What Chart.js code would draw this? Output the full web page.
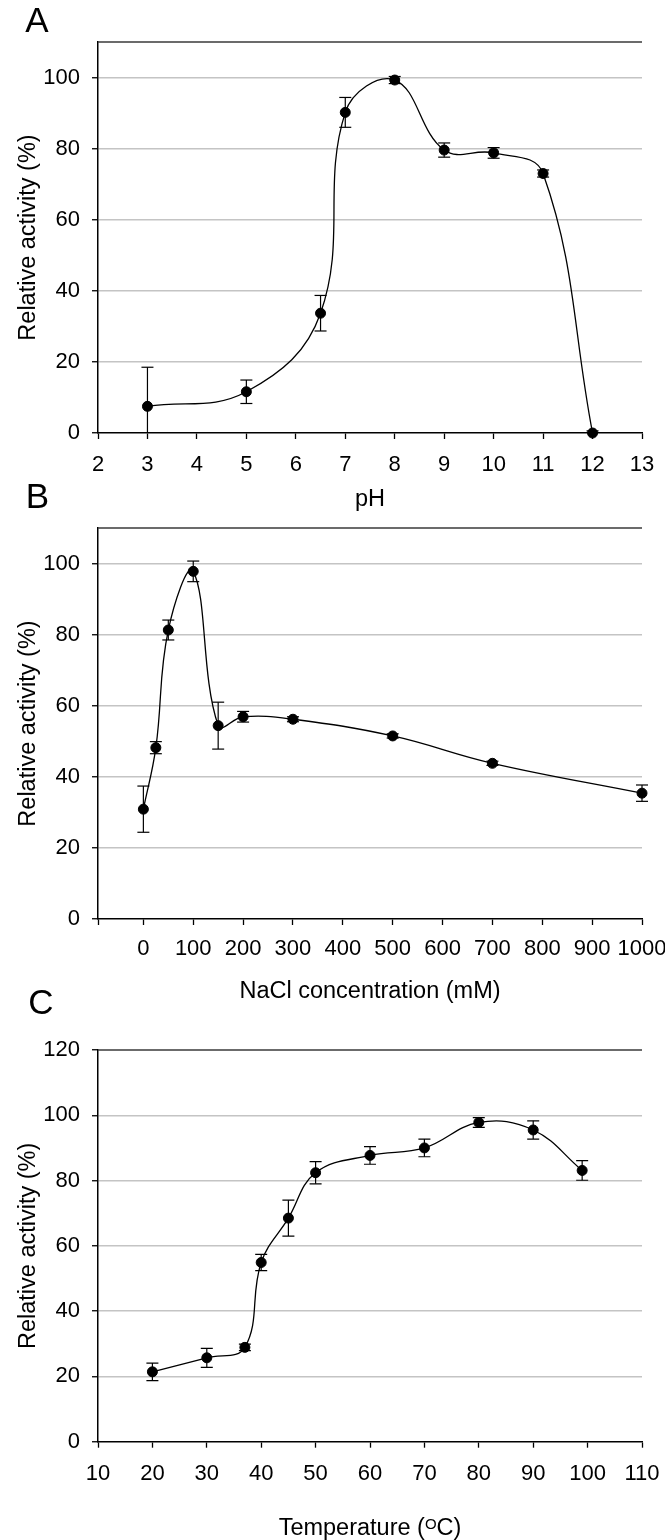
<!DOCTYPE html>
<html><head><meta charset="utf-8">
<script src="https://cdn.jsdelivr.net/npm/chart.js@4.4.1/dist/chart.umd.min.js"></script>
<style>
html,body{margin:0;padding:0;background:#fff;}
body{width:665px;height:1540px;position:relative;overflow:hidden;}
canvas{position:absolute;left:0;}
</style></head><body>
<canvas id="cA" width="665" height="515" style="top:0px;width:665px;height:515px"></canvas>
<canvas id="cB" width="665" height="540" style="top:480px;width:665px;height:540px"></canvas>
<canvas id="cC" width="665" height="555" style="top:985px;width:665px;height:555px"></canvas>
<script>
// ---- Panel A: pH ----
const phValues   = [3, 5, 6.5, 7, 8, 9, 10, 11, 12];
const phActivity = [7.5, 11.6, 33.7, 90.2, 99.3, 79.6, 78.8, 73.0, 0.0];
const phError    = [11.0, 3.3, 5.0, 4.2, 1.0, 2.0, 1.5, 1.0, 0.6];
const phTicks    = [2, 3, 4, 5, 6, 7, 8, 9, 10, 11, 12, 13];

// ---- Panel B: NaCl ----
const naclValues   = [0, 25, 50, 100, 150, 200, 300, 500, 700, 1000];
const naclActivity = [30.9, 48.2, 81.3, 97.8, 54.4, 56.9, 56.2, 51.5, 43.8, 35.4];
const naclError    = [6.5, 1.7, 2.8, 2.9, 6.6, 1.5, 0.7, 0.6, 0.6, 2.3];
const naclTicks    = [0, 100, 200, 300, 400, 500, 600, 700, 800, 900, 1000];

// ---- Panel C: Temperature ----
const tempValues   = [20, 30, 37, 40, 45, 50, 60, 70, 80, 90, 99];
const tempActivity = [21.4, 25.7, 28.9, 54.9, 68.5, 82.4, 87.7, 90.0, 97.8, 95.5, 83.1];
const tempError    = [2.7, 2.9, 1.0, 2.5, 5.5, 3.4, 2.7, 2.7, 1.5, 2.8, 3.0];
const tempTicks    = [10, 20, 30, 40, 50, 60, 70, 80, 90, 100, 110];

const activityTicksAB = [0, 20, 40, 60, 80, 100];
const activityTicksC  = [0, 20, 40, 60, 80, 100, 120];

const FONT = "'Liberation Sans', Arial, Helvetica, sans-serif";
const TITLE_SIZE = 23.5;

const extras = {
  id: 'panelExtras',
  beforeDatasetsDraw(chart) {
    const ctx = chart.ctx, a = chart.chartArea;
    const xs = chart.scales.x, ys = chart.scales.y;
    ctx.save();
    // top frame line
    ctx.strokeStyle = '#3a3a3a'; ctx.lineWidth = 1.5;
    ctx.beginPath(); ctx.moveTo(a.left, a.top); ctx.lineTo(a.right, a.top); ctx.stroke();
    // error bars
    const ds = chart.data.datasets[0];
    ctx.beginPath(); ctx.rect(a.left, a.top - 2, a.right - a.left + 10, a.bottom - a.top + 2); ctx.clip();
    ctx.strokeStyle = '#000'; ctx.lineWidth = 1.2;
    ds.data.forEach((p, i) => {
      const e = ds.errors[i];
      const px = xs.getPixelForValue(p.x);
      const hi = p.y + e, lo = p.y - e;
      const yT = ys.getPixelForValue(hi), yB = ys.getPixelForValue(lo);
      ctx.beginPath(); ctx.moveTo(px, yT); ctx.lineTo(px, yB); ctx.stroke();
      const cw = 6;
      if (hi <= ys.max) { ctx.beginPath(); ctx.moveTo(px - cw, yT); ctx.lineTo(px + cw, yT); ctx.stroke(); }
      if (lo >= ys.min) { ctx.beginPath(); ctx.moveTo(px - cw, yB); ctx.lineTo(px + cw, yB); ctx.stroke(); }
    });
    ctx.restore();
  },
  afterDraw(chart) {
    const o = chart.options.plugins.panelExtras;
    const ctx = chart.ctx, a = chart.chartArea;
    ctx.save();
    ctx.fillStyle = '#000';
    ctx.font = '35px ' + FONT;
    ctx.textAlign = 'center'; ctx.textBaseline = 'middle';
    ctx.fillText(o.letter, o.lx, o.ly);
    if (o.supTitle) {
      const t = o.supTitle; // [before, superscript, after]
      const big = TITLE_SIZE + 'px ' + FONT, small = '15px ' + FONT;
      ctx.font = big; const w1 = ctx.measureText(t[0]).width, w3 = ctx.measureText(t[2]).width;
      ctx.font = small; const w2 = ctx.measureText(t[1]).width;
      let x = (a.left + a.right) / 2 - (w1 + w2 + w3) / 2;
      ctx.textAlign = 'left'; ctx.textBaseline = 'alphabetic';
      ctx.font = big; ctx.fillText(t[0], x, o.titleBaseline); x += w1;
      ctx.font = small; ctx.fillText(t[1], x, o.titleBaseline - 6); x += w2;
      ctx.font = big; ctx.fillText(t[2], x, o.titleBaseline);
    }
    ctx.restore();
  }
};

function makePanel(id, c) {
  const yMax = c.yMax;
  return new Chart(document.getElementById(id), {
    type: 'scatter',
    data: { datasets: [{
      data: c.xs.map((x, i) => ({ x: x, y: c.ys[i] })),
      errors: c.errs,
      showLine: true, tension: c.tension,
      borderColor: '#000', borderWidth: 1.3,
      pointRadius: 5, pointHoverRadius: 5, pointBorderWidth: 1,
      pointBackgroundColor: '#000', pointBorderColor: '#000',
      clip: false
    }]},
    options: {
      responsive: false, animation: false, devicePixelRatio: 1, events: [],
      layout: { padding: { top: c.plotTop, right: 23, bottom: 0, left: 0 } },
      plugins: {
        legend: { display: false }, tooltip: { enabled: false },
        panelExtras: { letter: c.letter, lx: c.lx, ly: c.ly, supTitle: c.supTitle, titleBaseline: c.titleBaseline }
      },
      scales: {
        x: {
          type: 'linear', position: 'bottom', min: c.xMin, max: c.xMax,
          afterBuildTicks: s => { s.ticks = c.xTickVals.map(v => ({ value: v })); },
          afterFit: s => { s.height = c.xAxisH; s.paddingLeft = 0; s.paddingRight = 0; },
          ticks: { font: { family: FONT, size: 22 }, color: '#000', padding: c.xTickPad, maxRotation: 0, autoSkip: false,
                   callback: v => (c.xTicks.indexOf(v) >= 0 ? String(v) : '') },
          grid: { drawOnChartArea: false, drawTicks: true, tickLength: 6, tickColor: '#000', tickWidth: 1.3 },
          border: { display: true, color: '#000', width: 1.5 },
          title: { display: !!c.xTitle, text: c.xTitle || '', color: '#000',
                   font: { family: FONT, size: TITLE_SIZE, lineHeight: 1.2 }, padding: { top: 0, bottom: c.xTitlePadB || 0 } }
        },
        y: {
          type: 'linear', min: 0, max: yMax,
          afterBuildTicks: s => { s.ticks = c.yTicks.map(v => ({ value: v })); },
          afterFit: s => { s.width = 98; s.paddingTop = 0; s.paddingBottom = 0; },
          ticks: { font: { family: FONT, size: 22 }, color: '#000', padding: 12, callback: v => String(v) },
          grid: { drawTicks: true, tickLength: 6, tickColor: '#000', tickWidth: 1.3, lineWidth: 1.5,
                  color: ctx => (ctx.tick && (ctx.tick.value === 0 || ctx.tick.value === yMax)) ? 'rgba(0,0,0,0)' : '#c4c4c4' },
          border: { display: true, color: '#000', width: 1.5 },
          title: { display: true, text: 'Relative activity (%)', color: '#000',
                   font: { family: FONT, size: TITLE_SIZE, lineHeight: 1.2 }, padding: { top: 14, bottom: 0 } }
        }
      }
    },
    plugins: [extras]
  });
}

makePanel('cA', {
  xs: phValues, ys: phActivity, errs: phError, tension: 0.4,
  xMin: 2, xMax: 13, xTicks: phTicks, xTickVals: phTicks,
  yMax: 110, yTicks: activityTicksAB,
  plotTop: 42, xAxisH: 82, xTickPad: 13, xTitle: 'pH', xTitlePadB: 1.0,
  letter: 'A', lx: 37, ly: 22.5
});

makePanel('cB', {
  xs: naclValues, ys: naclActivity, errs: naclError, tension: 0.4,
  xMin: -91, xMax: 1000, xTicks: naclTicks, xTickVals: [-91].concat(naclTicks),
  yMax: 110, yTicks: activityTicksAB,
  plotTop: 48, xAxisH: 101, xTickPad: 11, xTitle: 'NaCl concentration (mM)', xTitlePadB: 14.5,
  letter: 'B', lx: 37.5, ly: 18
});

makePanel('cC', {
  xs: tempValues, ys: tempActivity, errs: tempError, tension: 0.4,
  xMin: 10, xMax: 110, xTicks: tempTicks, xTickVals: tempTicks,
  yMax: 120, yTicks: activityTicksC,
  plotTop: 65, xAxisH: 98.3, xTickPad: 13, xTitle: '',
  supTitle: ['Temperature (', 'O', 'C)'], titleBaseline: 550,
  letter: 'C', lx: 41, ly: 19
});
</script>
</body></html>
